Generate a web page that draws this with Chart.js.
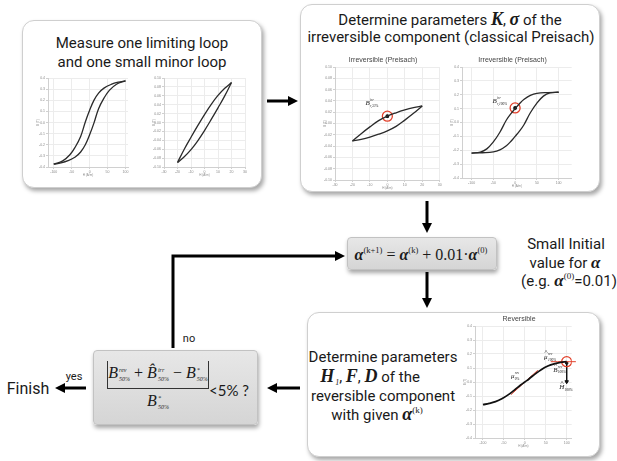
<!DOCTYPE html>
<html>
<head>
<meta charset="utf-8">
<script src="https://cdn.jsdelivr.net/npm/chart.js@4.4.1/dist/chart.umd.min.js"></script>
<style>
  html, body { margin: 0; padding: 0; background: #fff; }
  #page { position: relative; width: 617px; height: 461px; overflow: hidden; font-family: Roboto, sans-serif; color: #1a1a1a; }
  .box { position: absolute; background: #fff; border: 1px solid #cfcfcf; border-radius: 12px; box-shadow: 2px 3px 4px rgba(0,0,0,0.35); box-sizing: border-box; }
  .grey { position: absolute; background: linear-gradient(#e7e7e7, #d5d5d5); border: 1px solid #c2c2c2; border-radius: 4px; box-shadow: 1px 3px 4px rgba(0,0,0,0.35); box-sizing: border-box; }
  .t { position: absolute; white-space: nowrap; font-size: 15px; line-height: 1; transform: translate(-50%, -50%); }
  .m { font-family: "Liberation Serif", serif; font-style: italic; font-weight: bold; }
  .mi { font-family: "Liberation Serif", serif; font-style: italic; }
  .st { display: inline-flex; flex-direction: column; font-family: "Liberation Serif", serif; font-style: italic; font-size: 6px; line-height: 9px; vertical-align: 6px; margin-left: 1px; }
  .st i { display: block; }
  .sp { font-family: "Liberation Serif", serif; font-size: 9px; vertical-align: 7px; }
  canvas { position: absolute; }
  svg { position: absolute; left: 0; top: 0; }
</style>
</head>
<body>
<div id="page">
  <div class="box" style="left:22px;top:20px;width:240px;height:168px"></div>
  <div class="box" style="left:300px;top:4px;width:300px;height:188px"></div>
  <div class="box" style="left:307px;top:312px;width:293px;height:145px"></div>
  <div class="grey" style="left:347px;top:237px;width:150px;height:33px"></div>
  <div class="grey" style="left:93px;top:350px;width:165px;height:75px"></div>

  <div class="t" style="left:142px;top:43px">Measure one limiting loop</div>
  <div class="t" style="left:142px;top:62px">and one small minor loop</div>

  <div class="t" style="left:450px;top:19px">Determine parameters <span class="m" style="font-size:18px">K</span>, <span class="m" style="font-size:18px">σ</span> of the</div>
  <div class="t" style="left:451px;top:37px">irreversible component (classical Preisach)</div>

  <div class="t" style="left:383px;top:357px">Determine parameters</div>
  <div class="t" style="left:370px;top:377px"><span class="m" style="font-size:18px">H</span><span class="st" style="font-size:8px"><i>&nbsp;</i><i>1</i></span>, <span class="m" style="font-size:18px">F</span>, <span class="m" style="font-size:18px">D</span> of the</div>
  <div class="t" style="left:383px;top:396px">reversible component</div>
  <div class="t" style="left:377px;top:414px">with given <span class="m" style="font-size:18px">α</span><span class="sp">(k)</span></div>

  <div class="t" style="left:421px;top:254px;font-family:'Liberation Serif',serif;font-size:16px">
    <span class="m">α</span><span class="sp" style="font-size:8.5px">(k+1)</span> = <span class="m">α</span><span class="sp" style="font-size:8.5px">(k)</span> + 0.01·<span class="m">α</span><span class="sp" style="font-size:8.5px">(0)</span>
  </div>

  <div class="t" style="left:566px;top:244px">Small Initial</div>
  <div class="t" style="left:565px;top:262px">value for <span class="m" style="font-size:17px">α</span></div>
  <div class="t" style="left:569px;top:280px">(e.g. <span class="m" style="font-size:17px">α</span><span class="sp">(0)</span>=0.01)</div>

  <div class="t" style="left:158px;top:374px;font-family:'Liberation Serif',serif;font-size:16px">
    <span class="mi">B</span><span class="st"><i>rev</i><i>50%</i></span> + <span class="mi">B̂</span><span class="st"><i>irr</i><i>50%</i></span> − <span class="mi">B</span><span class="st"><i>*</i><i>50%</i></span>
  </div>
  <div class="t" style="left:158px;top:402px;font-family:'Liberation Serif',serif;font-size:16px">
    <span class="mi">B</span><span class="st"><i>*</i><i>50%</i></span>
  </div>
  <div class="t" style="left:229px;top:390px;font-family:Lato,sans-serif;font-size:15px">&lt;5% ?</div>

  <div class="t" style="left:189px;top:338px;font-size:11px">no</div>
  <div class="t" style="left:74px;top:376px;font-size:11px">yes</div>
  <div class="t" style="left:28px;top:389px;font-size:16px">Finish</div>

  <svg width="617" height="461">
    <g stroke="#000" stroke-width="3" fill="none">
      <line x1="267" y1="101" x2="290" y2="101"/>
      <line x1="427" y1="201" x2="427" y2="225"/>
      <line x1="427" y1="272" x2="427" y2="300"/>
      <polyline points="173,348 173,256 337,256"/>
      <line x1="300" y1="388" x2="275" y2="388"/>
      <line x1="86" y1="388" x2="63" y2="388"/>
    </g>
    <g stroke="#333" stroke-width="1" fill="none">
      <line x1="107.5" y1="361" x2="107.5" y2="388"/>
      <line x1="208.5" y1="361" x2="208.5" y2="388"/>
      <line x1="107" y1="388.5" x2="209" y2="388.5"/>
    </g>
    <g fill="#000">
      <polygon points="288,96 298,101 288,106"/>
      <polygon points="422,223 427,233 432,223"/>
      <polygon points="422,298 427,308 432,298"/>
      <polygon points="335,251 345,256 335,261"/>
      <polygon points="277,383 267,388 277,393"/>
      <polygon points="65,383 55,388 65,393"/>
    </g>
  </svg>

  <canvas id="c1"></canvas>
  <canvas id="c2"></canvas>
  <canvas id="c3"></canvas>
  <canvas id="c4"></canvas>
  <canvas id="c5"></canvas>
</div>

<script>
// measured limiting loop (total B): descending and ascending branches
const limDownH = [100, 80, 60, 40, 25, 12, 0, -12, -25, -40, -55, -75, -100];
const limDownB = [0.375, 0.363, 0.343, 0.310, 0.265, 0.200, 0.110, 0.005, -0.125, -0.220, -0.290, -0.345, -0.375];
const limUpH = [-100, -80, -60, -40, -25, -12, 0, 12, 25, 40, 55, 75, 100];
const limUpB = [-0.375, -0.363, -0.343, -0.310, -0.265, -0.200, -0.110, -0.005, 0.125, 0.220, 0.290, 0.345, 0.375];

// measured minor loop (total B)
const minDownH = [20, 15, 10, 5, 0, -5, -10, -15, -20];
const minDownB = [0.090, 0.077, 0.061, 0.041, 0.018, -0.007, -0.033, -0.060, -0.090];
const minUpH = [-20, -15, -10, -5, 0, 5, 10, 15, 20];
const minUpB = [-0.090, -0.077, -0.061, -0.041, -0.018, 0.007, 0.033, 0.060, 0.090];

// irreversible part of the minor loop
const irrMinDownH = [20, 15, 10, 5, 0, -5, -10, -15, -20];
const irrMinDownB = [0.031, 0.028, 0.024, 0.019, 0.013, 0.005, -0.006, -0.018, -0.031];
const irrMinUpH = [-20, -15, -10, -5, 0, 5, 10, 15, 20];
const irrMinUpB = [-0.031, -0.028, -0.024, -0.019, -0.013, -0.005, 0.006, 0.018, 0.031];
const irrMinRemanence = { x: 0, y: 0.013 };

// irreversible part of the limiting loop
const irrLimDownH = [100, 75, 50, 35, 20, 10, 0, -10, -20, -35, -50, -65, -80, -100];
const irrLimDownB = [0.218, 0.216, 0.210, 0.195, 0.165, 0.135, 0.100, 0.062, 0.018, -0.070, -0.140, -0.190, -0.213, -0.220];
const irrLimUpH = [-100, -75, -50, -35, -20, -10, 0, 10, 20, 35, 50, 65, 80, 100];
const irrLimUpB = [-0.220, -0.218, -0.212, -0.197, -0.167, -0.137, -0.100, -0.062, -0.018, 0.070, 0.140, 0.190, 0.213, 0.218];
const irrLimRemanence = { x: 0, y: 0.105 };

// reversible curve and its construction lines
const revH = [-100, -85, -70, -55, -40, -25, -10, 0, 10, 25, 40, 55, 70, 85, 100];
const revB = [-0.162, -0.153, -0.140, -0.120, -0.092, -0.058, -0.022, 0, 0.022, 0.058, 0.090, 0.114, 0.130, 0.140, 0.145];
const revSlopeH = [-33, 31];
const revSlopeB = [-0.090, 0.084];
const revTopH = [62, 122];
const revTopB = [0.145, 0.145];
const revTip = { x: 100, y: 0.145 };
const revDropH = [100, 100];
const revDropB = [0.135, 0.002];

// axis ticks
const ticksH100 = [-100, -50, 0, 50, 100];
const ticksH30 = [-30, -20, -10, 0, 10, 20, 30];
const ticksB04 = [-0.4, -0.3, -0.2, -0.1, 0, 0.1, 0.2, 0.3, 0.4];
const ticksB01 = [-0.10, -0.08, -0.06, -0.04, -0.02, 0, 0.02, 0.04, 0.06, 0.08, 0.10];

const pts = (xs, ys) => xs.map((x, i) => ({ x: x, y: ys[i] }));

function curve(xs, ys, color, width) {
  return { data: pts(xs, ys), showLine: true, borderColor: color || '#2a2a2a', borderWidth: width || 1.3,
    pointRadius: 0, tension: 0.4, fill: false };
}
function marker(p, radius, color, fillColor) {
  return { data: [p], showLine: false, pointRadius: radius, pointBorderWidth: 1.3,
    pointBorderColor: color, pointBackgroundColor: fillColor || 'rgba(0,0,0,0)' };
}

// small italic labels with super/subscripts placed in data coordinates
const notePlugin = {
  id: 'notes',
  afterDatasetsDraw(chart, args, opts) {
    const ctx = chart.ctx, sx = chart.scales.x, sy = chart.scales.y;
    ctx.save();
    ctx.fillStyle = '#222';
    ctx.textBaseline = 'alphabetic';
    (opts.items || []).forEach(n => {
      const px = sx.getPixelForValue(n.x), py = sy.getPixelForValue(n.y);
      ctx.font = 'italic 7px "Liberation Serif"';
      ctx.fillText(n.base, px, py);
      const w = ctx.measureText(n.base).width;
      if (n.hat) ctx.fillText('^', px + w / 2 - 1.5, py - 4.5);
      ctx.font = 'italic 3.5px "Liberation Serif"';
      if (n.sup) ctx.fillText(n.sup, px + w + 0.3, py - 4);
      if (n.sub) ctx.fillText(n.sub, px + w + 0.3, py + 1.8);
    });
    ctx.restore();
  }
};

function loopChart(id, area, o) {
  const YW = 12, XH = 10, PR = 3;
  const PT = o.title ? 10 : 3;
  const cv = document.getElementById(id);
  cv.width = YW + area.w + PR;
  cv.height = PT + area.h + XH;
  cv.style.left = (area.x - YW) + 'px';
  cv.style.top = (area.y - PT) + 'px';
  const tickFont = { size: 3.5, family: 'Liberation Sans' };
  const axis = (ticks, min, max, fixed, label, isX) => ({
    type: 'linear', min: min, max: max,
    afterBuildTicks: s => { s.ticks = ticks.map(v => ({ value: v })); },
    afterFit: s => { if (isX) s.height = XH; else s.width = YW; },
    ticks: { font: tickFont, color: '#8a8a8a', padding: 1, maxRotation: 0, autoSkip: false,
      callback: v => v.toFixed(fixed) },
    grid: { color: '#ececec', tickLength: 2, tickColor: '#d0d0d0' },
    border: { color: '#d0d0d0' },
    title: { display: true, text: label, color: '#8a8a8a', font: { size: 3, family: 'Liberation Sans' }, padding: 0 }
  });
  return new Chart(cv, {
    type: 'scatter',
    data: { datasets: o.datasets },
    options: {
      responsive: false, animation: false, devicePixelRatio: 1,
      layout: { padding: { top: o.title ? 0 : PT, right: PR, left: 0, bottom: 0 } },
      plugins: {
        legend: { display: false },
        tooltip: { enabled: false },
        title: { display: !!o.title, text: o.title, color: '#444',
          font: { size: 7, family: 'Liberation Sans', weight: 'normal', lineHeight: 1 },
          padding: { top: 0, bottom: 3 } },
        notes: { items: o.notes || [] }
      },
      scales: {
        x: axis(o.xTicks, o.xMin, o.xMax, 0, 'H (A/m)', true),
        y: axis(o.yTicks, o.yMin, o.yMax, o.yFixed, 'B (T)', false)
      }
    },
    plugins: [notePlugin]
  });
}

loopChart('c1', { x: 48, y: 78, w: 80, h: 89 }, {
  xTicks: ticksH100, xMin: -116, xMax: 107, yTicks: ticksB04, yMin: -0.4, yMax: 0.4, yFixed: 1,
  datasets: [curve(limDownH, limDownB), curve(limUpH, limUpB)]
});

loopChart('c2', { x: 164, y: 78, w: 81, h: 89 }, {
  xTicks: ticksH30, xMin: -30, xMax: 30, yTicks: ticksB01, yMin: -0.1, yMax: 0.1, yFixed: 2,
  datasets: [curve(minDownH, minDownB), curve(minUpH, minUpB)]
});

loopChart('c3', { x: 335, y: 67, w: 108, h: 113 }, {
  title: 'Irreversible (Preisach)',
  xTicks: ticksH30, xMin: -30, xMax: 30, yTicks: ticksB01, yMin: -0.1, yMax: 0.1, yFixed: 2,
  datasets: [curve(irrMinDownH, irrMinDownB), curve(irrMinUpH, irrMinUpB),
    marker(irrMinRemanence, 1.3, '#111', '#111'), marker(irrMinRemanence, 5, '#e2412b')],
  notes: [{ x: -12.5, y: 0.033, base: 'B', sup: 'irr', sub: 'r,33%' }]
});

loopChart('c4', { x: 462, y: 67, w: 113, h: 111 }, {
  title: 'Irreversible (Preisach)',
  xTicks: ticksH100, xMin: -122, xMax: 130, yTicks: ticksB04, yMin: -0.4, yMax: 0.4, yFixed: 1,
  datasets: [curve(irrLimDownH, irrLimDownB), curve(irrLimUpH, irrLimUpB),
    marker(irrLimRemanence, 1.3, '#111', '#111'), marker(irrLimRemanence, 5, '#e2412b')],
  notes: [{ x: -52, y: 0.14, base: 'B', sup: 'irr', sub: 'r,100%' }]
});

const revDrop = curve(revDropH, revDropB, '#111', 1);
revDrop.tension = 0;
revDrop.pointStyle = ['circle', 'triangle'];
revDrop.pointRadius = [1.3, 2];
revDrop.pointRotation = [0, 180];
revDrop.pointBackgroundColor = '#111';
revDrop.pointBorderColor = '#111';
const revTop = curve(revTopH, revTopB, '#e2412b', 1);
revTop.clip = false;

loopChart('c5', { x: 475, y: 326, w: 100, h: 112 }, {
  title: 'Reversible',
  xTicks: ticksH100, xMin: -119, xMax: 112, yTicks: ticksB04, yMin: -0.4, yMax: 0.4, yFixed: 1,
  datasets: [curve(revH, revB, '#111', 1.8), curve(revSlopeH, revSlopeB, '#e2412b', 1), revTop,
    marker(revTip, 5, '#e2412b'), revDrop],
  notes: [
    { x: -33, y: 0.03, base: 'μ', sup: 'rev', sub: '0%' },
    { x: 46, y: 0.165, base: 'μ', hat: true, sup: 'rev', sub: '100%' },
    { x: 68, y: 0.075, base: 'B', hat: true, sup: 'rev', sub: '100%' },
    { x: 82, y: -0.05, base: 'H', hat: true, sub: '100%' }
  ]
});
</script>
</body>
</html>
